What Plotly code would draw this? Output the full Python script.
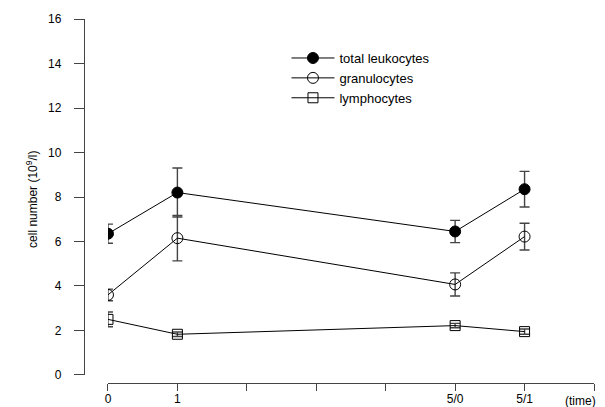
import plotly.graph_objects as go

# ---- data ----
x_pos = [0, 1, 5, 6]
label_vals = [0, 1, 5, 6]
label_text = ["0", "1", "5/0", "5/1"]
minor_vals = [2, 3, 4, 7]
y_tick_vals = [0, 2, 4, 6, 8, 10, 12, 14, 16]

total = [6.35, 8.2, 6.45, 8.35]
total_err = [0.43, 1.1, 0.5, 0.8]
gran = [3.6, 6.15, 4.07, 6.22]
gran_err = [0.26, 1.02, 0.52, 0.6]
lymph = [2.5, 1.83, 2.22, 1.95]
lymph_err = [0.33, 0.1, 0.1, 0.12]

FONT = "Liberation Sans, Arial, sans-serif"
AX = "#444444"

fig = go.Figure()

def add(name, y, e, symbol, size):
    fig.add_trace(go.Scatter(
        x=x_pos, y=y, name=name, mode="lines+markers",
        line=dict(color="black", width=1),
        marker=dict(symbol=symbol, size=size, color="black",
                    line=dict(color="black", width=1)),
        error_y=dict(type="data", array=e, visible=True,
                     color=AX, thickness=1.4, width=5),
    ))

add("total leukocytes", total, total_err, "circle", 11)
add("granulocytes", gran, gran_err, "circle-open", 11)
add("lymphocytes", lymph, lymph_err, "square-open", 10)

fig.update_layout(
    width=597, height=399,
    margin=dict(l=76, r=11, t=11, b=24, autoexpand=False),
    paper_bgcolor="white", plot_bgcolor="white",
    font=dict(family=FONT, size=12, color="black"),
    showlegend=True,
    legend=dict(x=0.397, y=0.934, xanchor="left", yanchor="top",
                bgcolor="rgba(0,0,0,0)", font=dict(size=13),
                itemwidth=43, tracegroupgap=0),
    xaxis=dict(domain=[0.047, 1], range=[0, 7], anchor="free", position=0,
               showline=True, linecolor=AX, linewidth=1.3,
               showgrid=False, zeroline=False,
               tickmode="array", tickvals=label_vals, ticktext=label_text,
               ticks="outside", ticklen=7, tickcolor=AX, tickwidth=1.3,
               minor=dict(tickmode="array", tickvals=minor_vals,
                          ticks="outside", ticklen=7, tickcolor=AX,
                          tickwidth=1.3, showgrid=False),
               ticklabelstandoff=-3, automargin=False,
               tickfont=dict(size=12)),
    yaxis=dict(domain=[0.022, 1], range=[0, 16], anchor="free", position=0,
               showline=True, linecolor=AX, linewidth=1.3,
               showgrid=False, zeroline=False,
               tickmode="array", tickvals=y_tick_vals,
               ticks="outside", ticklen=10, tickcolor=AX, tickwidth=1.3,
               ticklabelstandoff=10, automargin=False,
               tickfont=dict(size=12)),
    annotations=[
        dict(text="cell number (10<sup>9</sup>/l)", textangle=-90,
             xref="paper", yref="paper", x=-0.122, y=0.505,
             showarrow=False, font=dict(size=12)),
        dict(text="(time)", xref="x", yref="paper", x=6.8, y=-0.05,
             yanchor="middle", showarrow=False, font=dict(size=12)),
    ],
)

fig.write_html("out.html")
